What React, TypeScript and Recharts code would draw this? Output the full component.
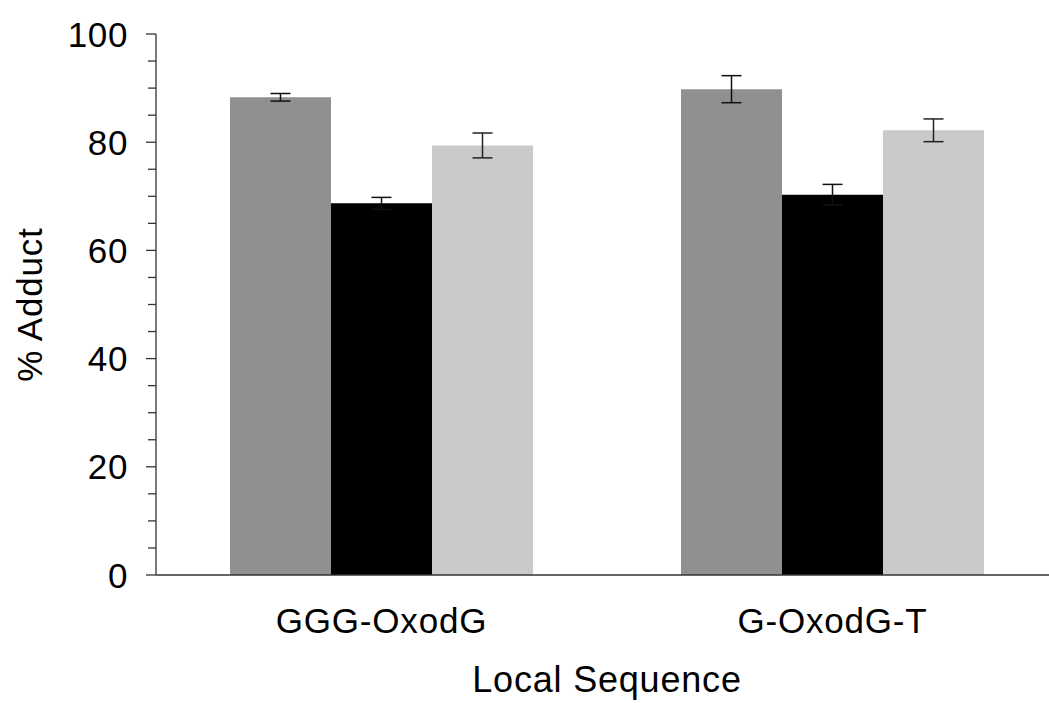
import React from 'react'
import { BarChart, Bar, XAxis, YAxis, ErrorBar } from 'recharts'

const categories = ['GGG-OxodG', 'G-OxodG-T']
const seriesA = [88.3, 89.8]
const seriesAErr = [0.7, 2.5]
const seriesB = [68.7, 70.3]
const seriesBErr = [1.1, 1.9]
const seriesC = [79.4, 82.2]
const seriesCErr = [2.3, 2.1]
const yTicks = [0, 5, 10, 15, 20, 25, 30, 35, 40, 45, 50, 55, 60, 65, 70, 75, 80, 85, 90, 95, 100]

const data = categories.map((name, i) => ({
  name,
  a: seriesA[i],
  aErr: seriesAErr[i],
  b: seriesB[i],
  bErr: seriesBErr[i],
  c: seriesC[i],
  cErr: seriesCErr[i],
}))

const FONT = '"Liberation Sans", Arial, Helvetica, sans-serif'
const AXIS = '#333333'

// eslint-disable-next-line @typescript-eslint/no-explicit-any
function YTick({ x, y, payload }: any) {
  const v = payload.value as number
  const major = v % 20 === 0
  return (
    <g>
      <line x1={x} x2={x - (major ? 10 : 8)} y1={y} y2={y} stroke={AXIS} strokeWidth={1.3} />
      {major && (
        <text
          x={x - 28}
          y={y}
          dy="0.36em"
          textAnchor="end"
          fontFamily={FONT}
          fontSize={35}
          letterSpacing={0.6}
          fill="#000"
        >
          {v}
        </text>
      )}
    </g>
  )
}

// eslint-disable-next-line @typescript-eslint/no-explicit-any
function YLabel({ viewBox }: any) {
  const cx = 42
  const cy = viewBox.y + viewBox.height / 2
  return (
    <text
      x={cx}
      y={cy}
      transform={`rotate(-90 ${cx} ${cy})`}
      textAnchor="middle"
      fontFamily={FONT}
      fontSize={35}
      letterSpacing={0.8}
      fill="#000"
    >
      % Adduct
    </text>
  )
}

export default function App() {
  return (
    <div
      style={{
        position: 'absolute',
        left: 0,
        top: 0,
        width: 1049,
        height: 703,
        overflow: 'hidden',
        background: '#fff',
      }}
    >
      <BarChart
        width={1070}
        height={703}
        data={data}
        margin={{ top: 34, right: 12, bottom: 0, left: 0 }}
        barGap={0}
        barSize={101}
      >
        <XAxis
          dataKey="name"
          height={128}
          tickLine={false}
          tickSize={0}
          tickMargin={33}
          axisLine={{ stroke: AXIS, strokeWidth: 1.3 }}
          tick={{ fontFamily: FONT, fontSize: 35, fill: '#000', letterSpacing: 0.8 }}
          label={{
            value: 'Local Sequence',
            position: 'insideBottom',
            offset: 11,
            fontFamily: FONT,
            fontSize: 36,
            fill: '#000',
            letterSpacing: 0.8,
          }}
        />
        <YAxis
          width={156}
          domain={[0, 100]}
          ticks={yTicks}
          interval={0}
          tickLine={false}
          tickSize={0}
          tickMargin={0}
          axisLine={{ stroke: AXIS, strokeWidth: 1.3 }}
          tick={<YTick />}
          label={<YLabel />}
        />
        <Bar dataKey="a" fill="#909090" isAnimationActive={false}>
          <ErrorBar dataKey="aErr" width={10} stroke="#111" strokeWidth={1.5} />
        </Bar>
        <Bar dataKey="b" fill="#000000" isAnimationActive={false}>
          <ErrorBar dataKey="bErr" width={10} stroke="#111" strokeWidth={1.5} />
        </Bar>
        <Bar dataKey="c" fill="#cacaca" isAnimationActive={false}>
          <ErrorBar dataKey="cErr" width={10} stroke="#222" strokeWidth={1.5} />
        </Bar>
      </BarChart>
    </div>
  )
}
